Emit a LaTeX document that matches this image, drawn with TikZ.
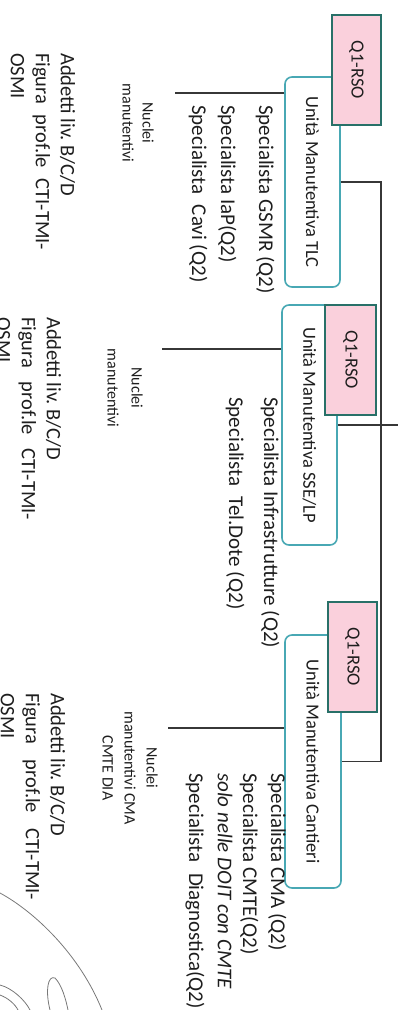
\documentclass[tikz,border=0pt]{standalone}
\usepackage{fontspec}
\setmainfont{Carlito}
\usetikzlibrary{calc}
\definecolor{unitcol}{RGB}{72,168,180}
\definecolor{pinkborder}{RGB}{40,112,104}
\definecolor{pinkfill}{RGB}{250,208,220}
\definecolor{linecol}{RGB}{55,55,55}
\definecolor{txtcol}{RGB}{30,30,30}
\definecolor{signcol}{RGB}{120,120,120}
\begin{document}
\begin{tikzpicture}[x=1pt,y=-1pt,
  unitbox/.style={draw=unitcol, line width=1.6pt, rounded corners=7pt, fill=white, rotate=-90, inner sep=0pt, font=\fontsize{18.5}{21}\selectfont, text=txtcol},
  pinkbox/.style={draw=pinkborder, line width=1.6pt, fill=pinkfill, rotate=-90, inner sep=0pt, font=\fontsize{18.5}{21}\selectfont, text=txtcol},
  conn/.style={draw=linecol, line width=1.3pt},
  spec/.style={rotate=-90, anchor=west, inner sep=0pt, font=\fontsize{21}{24}\selectfont, text=txtcol},
  nuc/.style={rotate=-90, anchor=center, align=center, inner sep=0pt, text=txtcol},
  addetti/.style={rotate=-90, anchor=west, align=left, inner sep=0pt, font=\fontsize{20.5}{25}\selectfont, text=txtcol},
  sign/.style={draw=signcol, line width=0.8pt}
]
\useasboundingbox (0,0) rectangle (398,1010);

% unit boxes
\node[unitbox, minimum width=210pt, minimum height=55pt] (u1) at (312.5,182) {Unità Manutentiva TLC};
\node[unitbox, minimum width=240pt, minimum height=55pt] (u2) at (309.5,425) {Unità Manutentiva SSE/LP};
\node[unitbox, minimum width=253pt, minimum height=56pt] (u3) at (313,761.5) {Unità Manutentiva Cantieri};

% pink boxes
\node[pinkbox, minimum width=110pt, minimum height=49pt] (p1) at (356.5,70) {Q1-RSO};
\node[pinkbox, minimum width=110pt, minimum height=51pt] (p2) at (350.5,360) {Q1-RSO};
\node[pinkbox, minimum width=110pt, minimum height=49pt] (p3) at (352.5,657) {Q1-RSO};

% connectors
\coordinate (bus) at (381,0);
\coordinate (parent) at (398,423);
\draw[conn] (u1.north) -- (u1.north -| bus) -- (u3.north -| bus) -- (u3.north);
\draw[conn] (u2.north) -- (u2.north -| parent);

\coordinate (k1) at (175,93);
\coordinate (k2) at (162,349);
\coordinate (k3) at (168,728);
\draw[conn] (u1.south |- k1) -- (k1);
\draw[conn] (u2.south |- k2) -- (k2);
\draw[conn] (u3.south |- k3) -- (k3);

% specialists
\node[spec] (s11) at (265,105) {Specialista GSMR (Q2)};
\node[spec] (s12) at (227,105) {Specialista IaP(Q2)};
\node[spec] (s13) at (198,105) {Specialista\enspace Cavi (Q2)};

\node[spec] (s21) at (270,397) {Specialista Infrastrutture (Q2)};
\node[spec] (s22) at (235,397) {Specialista\enspace Tel.Dote (Q2)};

\node[spec] (s31) at (277,773) {Specialista CMA (Q2)};
\node[spec] (s32) at (249,773) {Specialista CMTE(Q2)};
\node[spec, font=\fontsize{21}{24}\selectfont\itshape] (s33) at (225,773) {solo nelle DOIT con CMTE};
\node[spec] (s34) at (195,773) {Specialista\enspace Diagnostica(Q2)};

% nuclei
\node[nuc, font=\fontsize{16}{20}\selectfont] (m1) at (138,123) {Nuclei\\manutentivi};
\node[nuc, font=\fontsize{16}{24}\selectfont] (m2) at (125,388) {Nuclei\\manutentivi};
\node[nuc, font=\fontsize{16}{22}\selectfont] (m3) at (130,768) {Nuclei\\manutentivi CMA\\CMTE DIA};

% addetti
\node[addetti] (a1) at (43,53) {Addetti liv.\ B/C/D\\\makebox[197pt][s]{Figura prof.le CTI-TMI-}\\OSMI};
\node[addetti] (a2) at (29,317) {Addetti liv.\ B/C/D\\\makebox[203pt][s]{Figura prof.le CTI-TMI-}\\OSMI};
\node[addetti] (a3) at (33,693) {Addetti liv.\ B/C/D\\\makebox[207pt][s]{Figura prof.le CTI-TMI-}\\OSMI};

% signature strokes
\draw[sign] (0,893) .. controls (35,912) and (80,955) .. (102,1010);
\draw[sign] (50,1010) .. controls (45,990) and (48,975) .. (55,978) .. controls (62,985) and (66,1000) .. (68,1010);
\draw[sign] (0,985) .. controls (12,988) and (25,1000) .. (30,1010);
\draw[sign] (0,995) .. controls (8,998) and (15,1004) .. (18,1010);
\end{tikzpicture}
\end{document}
